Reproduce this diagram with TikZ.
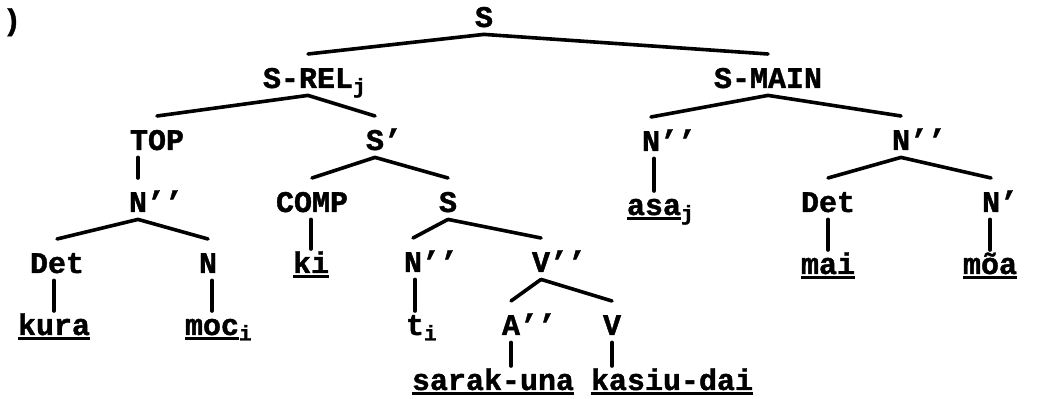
\documentclass[tikz,border=0pt]{standalone}
\usepackage{fontspec}
\setmonofont{Liberation Mono}[BoldFeatures={FakeBold=1.4}]
\usetikzlibrary{calc}
\newcommand{\uw}[1]{\setbox0\hbox{#1}\rlap{\rule[-2.4pt]{\wd0}{1.4pt}}\box0}

\begin{document}
\begin{tikzpicture}[x=0.5pt, y=-0.5pt,
        font=\fontsize{15}{18}\selectfont\ttfamily\bfseries,
        cat/.style={anchor=base, inner sep=0pt, text height=16.8pt, text depth=3.5pt},
        wd/.style={cat, text height=11.8pt},
        br/.style={line width=1.8pt, line cap=round}]
        \useasboundingbox (0,0) rectangle (1037,399);
        \node[anchor=base] (lbl) at (12,30) {)};
        \node[cat] (s0)    at (484,27)  {S};
        \node[cat] (srel)  at (308,88)  {S-REL\rlap{\textsubscript{j}}};
        \node[cat] (smain) at (768,88)  {S-MAIN};
        \node[cat] (top)   at (157,150) {TOP};
        \node[cat] (sbar)  at (375,150) {S\rlap{’}};
        \node[cat] (np1)   at (651,151) {N\rlap{’’}};
        \node[cat] (np2)   at (901,150) {N\rlap{’’}};
        \node[cat] (np3)   at (138,212) {N\rlap{’’}};
        \node[cat] (comp)  at (312,212) {COMP};
        \node[cat] (s2)    at (448,212) {S};
        \node[wd]  (asa)   at (654,215) {\uw{asa}\rlap{\textsubscript{j}}};
        \node[cat] (det2)  at (828,212) {Det};
        \node[cat] (nb2)   at (991,212) {N\rlap{’}};
        \node[cat] (det1)  at (57,273)  {Det};
        \node[cat] (n1)    at (208,273) {N};
        \node[wd]  (ki)    at (311,273) {\uw{ki}};
        \node[cat] (np4)   at (413,272) {N\rlap{’’}};
        \node[cat] (vp)    at (541,272) {V\rlap{’’}};
        \node[wd]  (mai)   at (828,274) {\uw{mai}};
        \node[wd]  (moa)   at (990,274) {\uw{mõa}};
        \node[wd]  (kura)  at (54,335)  {\uw{kura}};
        \node[wd]  (moc)   at (212,335) {\uw{moc}\rlap{\textsubscript{i}}};
        \node[wd]  (t)     at (415,335) {t\rlap{\textsubscript{i}}};
        \node[cat] (ap)    at (511,335) {A\rlap{’’}};
        \node[cat] (v)     at (612,335) {V};
        \node[wd]  (sarak) at (493,390) {\uw{sarak-una}};
        \node[wd]  (kasiu) at (672,390) {\uw{kasiu-dai}};
        \foreach \a/\b in {s0/srel, s0/smain, srel/top, srel/sbar, smain/np1, smain/np2,
                np3/det1, np3/n1, sbar/comp, sbar/s2, s2/np4, s2/vp, vp/ap, vp/v,
                np2/det2, np2/nb2}
            \draw[br] (\a.south) -- (\b.north);
        \foreach \a/\b in {top/np3, comp/ki, np1/asa, det2/mai, nb2/moa, det1/kura, n1/moc, np4/t}
            \draw[br] (\a.south -| \b.north) -- (\b.north);
        \foreach \a/\b in {ap/sarak, v/kasiu}
            \draw[br] (\a.south) -- (\a.south |- \b.north);
    \end{tikzpicture}
\end{document}
